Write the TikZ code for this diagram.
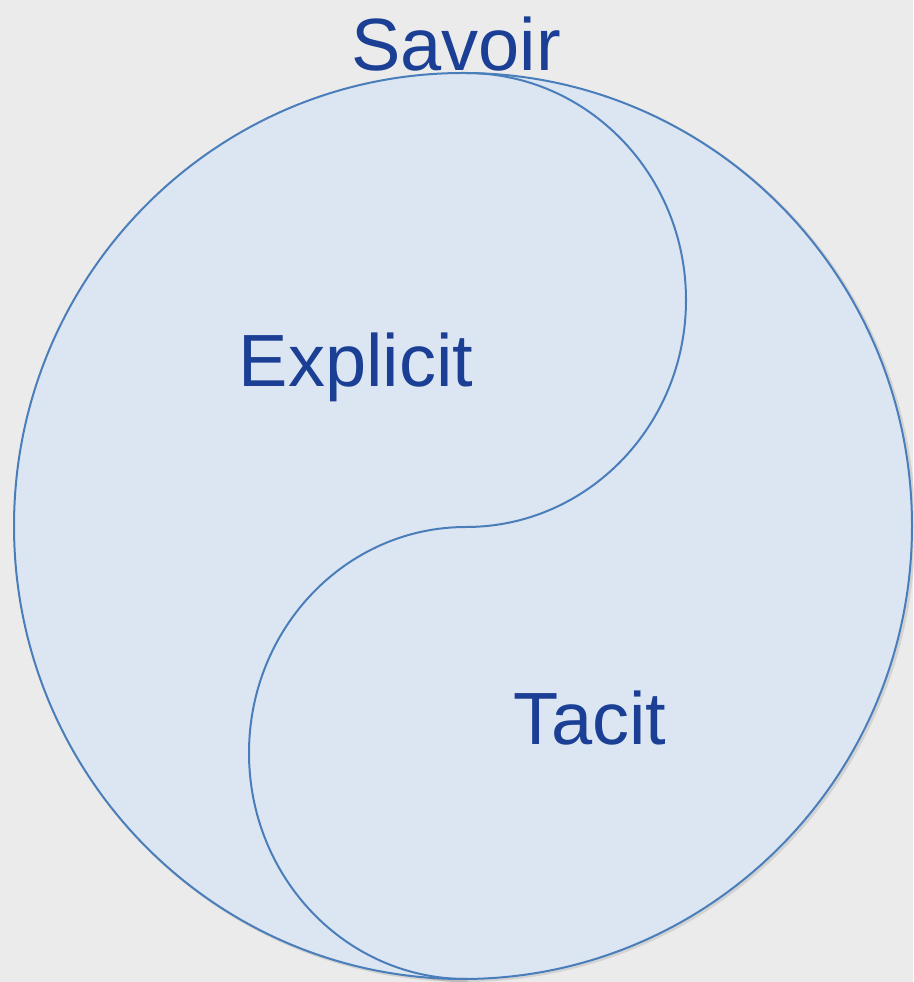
\documentclass[tikz,border=0pt]{standalone}
\usepackage{fontspec}
\setmainfont{Liberation Sans}
\definecolor{bgc}{HTML}{EBEBEB}
\definecolor{fillc}{HTML}{DCE6F2}
\definecolor{linec}{HTML}{4A7EBB}
\definecolor{textc}{HTML}{1B3F94}
\begin{document}
\begin{tikzpicture}[x=1pt,y=1pt,
  outline/.style={draw=linec,line width=2pt},
  shadowline/.style={draw=black,opacity=0.10,line width=3pt},
  label/.style={anchor=base,text=textc,inner sep=0pt,font=\fontsize{74}{88}\selectfont}]
\fill[bgc] (0,0) rectangle (913,982);
\useasboundingbox (0,0) rectangle (913,982);
% shadow
\draw[shadowline] (465,454.5) ellipse[x radius=449,y radius=453];
\draw[shadowline] (467.5,907) arc[start angle=90,end angle=-90,x radius=220,y radius=227]
  arc[start angle=90,end angle=270,x radius=217,y radius=226];
% main circle
\filldraw[fill=fillc,outline] (463,456) ellipse[x radius=449,y radius=453];
% S curve
\draw[outline] (466,909) arc[start angle=90,end angle=-90,x radius=220,y radius=227]
  coordinate (mid)
  arc[start angle=90,end angle=270,x radius=217,y radius=226];
\node[label] (savoir) at (456,911) {Savoir};
\node[label] (explicit) at (356,595) {Explicit};
\node[label] (tacit) at (590,237) {Tacit};
\end{tikzpicture}
\end{document}
